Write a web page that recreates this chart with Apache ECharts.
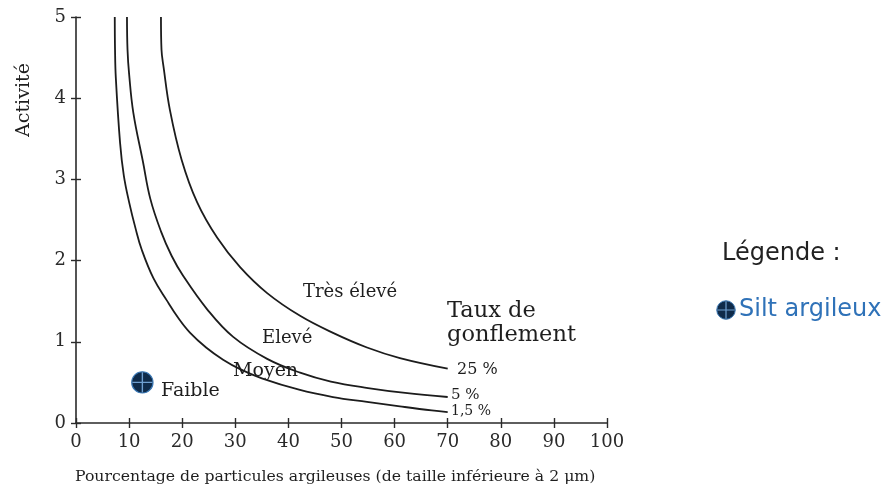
<!DOCTYPE html>
<html>
<head>
<meta charset="utf-8">
<script src="https://cdn.jsdelivr.net/npm/echarts@6/dist/echarts.min.js"></script>
<style>html,body{margin:0;padding:0;background:#fff;}#chart{width:893px;height:496px;}</style>
</head>
<body>
<div id="chart"></div>
<script>
// ---- data ----
const xTicks = [0, 10, 20, 30, 40, 50, 60, 70, 80, 90, 100];
const yTicks = [0, 1, 2, 3, 4, 5];
// swelling-potential boundary curves: [clay %, activity]
const curve1_5 = [[7.3,5.0],[7.35,4.6],[7.5,4.25],[8.3,3.45],[9.0,3.05],[10.0,2.72],[11.2,2.40],[12.4,2.13],[14.6,1.78],[17.1,1.51],[19.3,1.29],[21.5,1.11],[24.5,0.93],[27.7,0.78],[31,0.66],[35,0.55],[42,0.41],[48.4,0.32],[54.8,0.26],[61,0.205],[67,0.155],[70,0.135]];
const curve5 = [[9.6,5.0],[9.7,4.6],[10.0,4.3],[10.8,3.82],[12.6,3.22],[14.0,2.76],[16.0,2.36],[18.0,2.06],[20.2,1.81],[24.7,1.40],[29.6,1.06],[36,0.79],[42.2,0.62],[48,0.51],[55,0.43],[62,0.37],[70,0.32]];
const curve25 = [[16.0,5.0],[16.1,4.6],[16.5,4.38],[17.7,3.85],[19.9,3.24],[22.8,2.72],[26.6,2.28],[30.9,1.92],[36,1.60],[42.2,1.32],[48.4,1.11],[54.8,0.93],[61,0.80],[70,0.67]];
const curveNames = ['1,5 %', '5 %', '25 %'];
const sample = [[12.5, 0.5]];
const sampleName = 'Silt argileux';

const markerSvg = "<svg xmlns='http://www.w3.org/2000/svg' width='40' height='40' viewBox='0 0 40 40'>" +
  "<circle cx='20' cy='20' r='18.5' fill='#0f2b4a' stroke='#3a78b5' stroke-width='2'/>" +
  "<path d='M20 2.5V37.5M2.5 20H37.5' stroke='#6f9fd0' stroke-width='2.4'/></svg>";
const markerIcon = 'image://data:image/svg+xml;charset=utf-8,' + encodeURIComponent(markerSvg);

const serif = 'DejaVu Serif';
const chart = echarts.init(document.getElementById('chart'), null, {renderer: 'canvas'});

function lineSeries(name, data) {
  return {
    name: name, type: 'line', data: data, xAxisIndex: 0, yAxisIndex: 0,
    smooth: 0.4, symbol: 'none', clip: true,
    lineStyle: {color: '#1c1c1c', width: 1.8},
    silent: true
  };
}

const txt = (text, x, y, size, extra) => ({
  type: 'text', x: x, y: y, silent: true,
  style: Object.assign({text: text, fill: '#1e1e1e', font: size + 'px "' + serif + '"', textVerticalAlign: 'middle'}, extra || {})
});

const option = {
  animation: false,
  backgroundColor: '#ffffff',
  title: {
    text: 'Légende :', left: 717, top: 237,
    textStyle: {fontFamily: 'DejaVu Sans', fontSize: 24, fontWeight: 'normal', color: '#222'}
  },
  legend: {
    data: [{name: sampleName, icon: markerIcon, itemStyle: {opacity: 1}}],
    left: 711, top: 293, itemWidth: 20, itemHeight: 20, itemGap: 5,
    textStyle: {fontFamily: 'DejaVu Sans', fontSize: 24, color: '#2f72b8', padding: [0, 0, 0, -2]},
    selectedMode: false
  },
  grid: {left: 76, right: 286, top: 17, bottom: 73, containLabel: false},
  xAxis: [{
    type: 'value', min: xTicks[0], max: xTicks[xTicks.length - 1], interval: 10,
    axisLine: {lineStyle: {color: '#2a2a2a', width: 1.6}},
    axisTick: {show: true, length: 5, lineStyle: {color: '#2a2a2a', width: 1.4}},
    axisLabel: {margin: 10, fontFamily: serif, fontSize: 18, color: '#2a2a2a'},
    splitLine: {show: false}
  }, {
    type: 'value', min: xTicks[0], max: xTicks[xTicks.length - 1], interval: 10, position: 'bottom',
    axisLine: {show: false},
    axisTick: {show: true, inside: true, length: 5, lineStyle: {color: '#2a2a2a', width: 1.4}},
    axisLabel: {show: false}, splitLine: {show: false}
  }],
  yAxis: [{
    type: 'value', min: yTicks[0], max: yTicks[yTicks.length - 1], interval: 1,
    axisLine: {show: true, lineStyle: {color: '#2a2a2a', width: 1.6}},
    axisTick: {show: true, length: 5, lineStyle: {color: '#2a2a2a', width: 1.4}},
    axisLabel: {margin: 10, fontFamily: serif, fontSize: 18, color: '#2a2a2a'},
    splitLine: {show: false}
  }, {
    type: 'value', min: yTicks[0], max: yTicks[yTicks.length - 1], interval: 1, position: 'left',
    axisLine: {show: false},
    axisTick: {show: true, inside: true, length: 5, lineStyle: {color: '#2a2a2a', width: 1.4}},
    axisLabel: {show: false}, splitLine: {show: false}
  }],
  series: [
    lineSeries(curveNames[0], curve1_5),
    lineSeries(curveNames[1], curve5),
    lineSeries(curveNames[2], curve25),
    {
      name: sampleName, type: 'scatter', data: sample, symbol: markerIcon, symbolSize: 23,
      itemStyle: {color: '#0f2b4a', opacity: 1}, z: 5
    }
  ],
  graphic: [
    Object.assign(txt('Activité', 24, 100, 19, {textAlign: 'center'}), {rotation: Math.PI / 2}),
    txt('Pourcentage de particules argileuses (de taille inférieure à 2 μm)', 75, 477, 15.7),
    txt('Très élevé', 303, 292, 18),
    txt('Taux de', 447, 311, 22.5),
    txt('gonflement', 447, 335, 22.5),
    txt('Elevé', 262, 338, 18),
    txt('Moyen', 233, 371, 19),
    txt('Faible', 161, 391, 19),
    txt('25 %', 457, 370, 16),
    txt('5 %', 451, 395, 15),
    txt('1,5 %', 451, 411, 14)
  ]
};
chart.setOption(option);
</script>
</body>
</html>
